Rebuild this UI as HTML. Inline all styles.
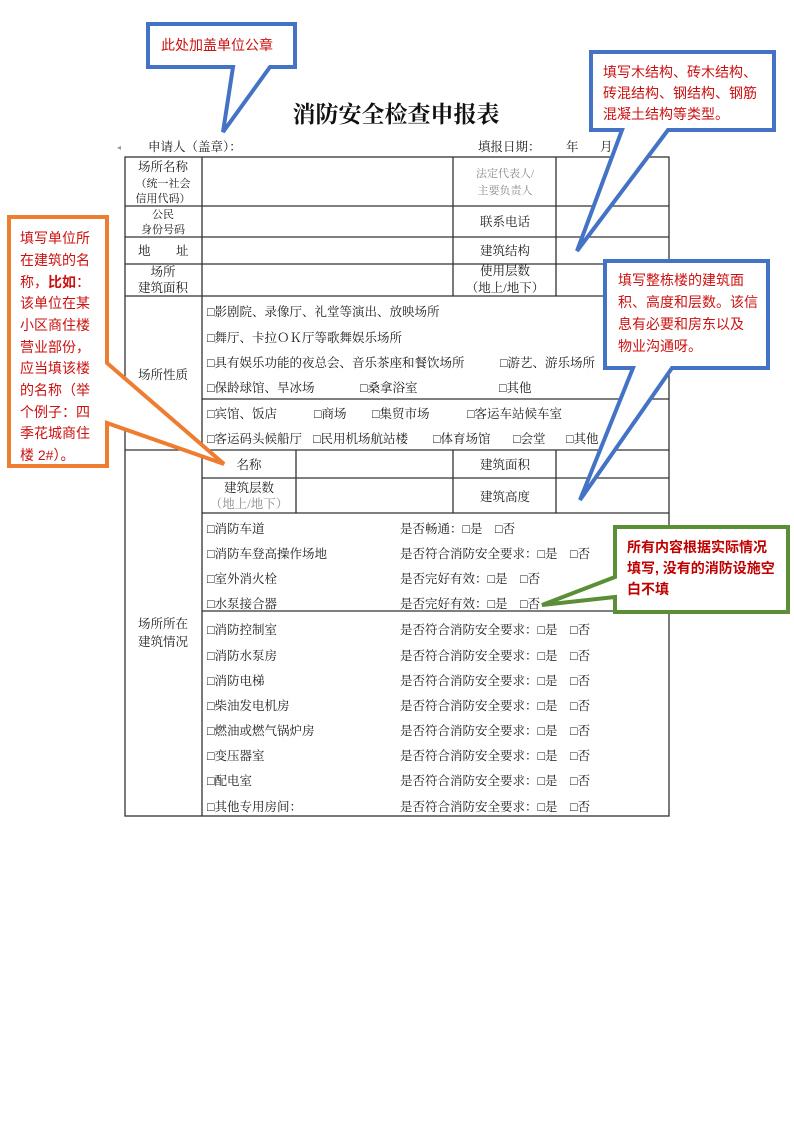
<!DOCTYPE html>
<html><head><meta charset="utf-8"><style>
html,body{margin:0;padding:0;background:#fff;}
svg{display:block;}
.t{font-family:"Liberation Serif","Noto Serif CJK SC",serif;font-size:12.5px;fill:#1a1a1a;}
.g{fill:#8a8a8a;}
.r{font-family:"Liberation Sans","Noto Sans CJK SC",sans-serif;font-size:14px;fill:#cc1111;}
.rb{font-weight:bold;fill:#c00000;}
</style></head><body>
<svg width="794" height="1122" viewBox="0 0 794 1122" xmlns="http://www.w3.org/2000/svg">
<rect width="794" height="1122" fill="#fff"/>
<text x="396" y="122" text-anchor="middle" style="font-family:'Liberation Serif','Noto Serif CJK SC',serif;font-size:23px;font-weight:bold;fill:#111">消防安全检查申报表</text>
<text class="t" x="148" y="151">申请人（盖章）：</text>
<text class="t" x="478" y="151">填报日期：</text>
<text class="t" x="566" y="151">年</text>
<text class="t" x="600" y="151">月</text>
<text class="t" x="633" y="151">日</text>
<text class="t" x="117" y="150" style="font-size:8px;fill:#999">◂</text>

<g stroke="#333" stroke-width="1.3" fill="none">
<rect x="125" y="157" width="544" height="659"/>
<line x1="125" y1="206" x2="669" y2="206"/>
<line x1="125" y1="237" x2="669" y2="237"/>
<line x1="125" y1="264" x2="669" y2="264"/>
<line x1="125" y1="296" x2="669" y2="296"/>
<line x1="202" y1="399" x2="669" y2="399"/>
<line x1="125" y1="450" x2="669" y2="450"/>
<line x1="202" y1="478" x2="669" y2="478"/>
<line x1="202" y1="513" x2="669" y2="513"/>
<line x1="202" y1="611" x2="669" y2="611"/>
<line x1="202" y1="157" x2="202" y2="816"/>
<line x1="453" y1="157" x2="453" y2="296"/>
<line x1="556" y1="157" x2="556" y2="296"/>
<line x1="296" y1="450" x2="296" y2="513"/>
<line x1="453" y1="450" x2="453" y2="513"/>
<line x1="556" y1="450" x2="556" y2="513"/>
</g>

<text class="t" x="163" y="171" text-anchor="middle">场所名称</text>
<text class="t" x="163" y="187" text-anchor="middle" style="font-size:11px">（统一社会</text>
<text class="t" x="163" y="202" text-anchor="middle" style="font-size:11px">信用代码）</text>
<text class="t" x="163" y="218" text-anchor="middle" style="font-size:11px">公民</text>
<text class="t" x="163" y="233" text-anchor="middle" style="font-size:11px">身份号码</text>
<text class="t" x="138" y="255">地</text>
<text class="t" x="176" y="255">址</text>
<text class="t" x="163" y="276" text-anchor="middle">场所</text>
<text class="t" x="163" y="292" text-anchor="middle">建筑面积</text>
<text class="t" x="163" y="379" text-anchor="middle">场所性质</text>
<text class="t" x="163" y="628" text-anchor="middle">场所所在</text>
<text class="t" x="163" y="646" text-anchor="middle">建筑情况</text>

<text class="t g" x="505" y="177" text-anchor="middle" style="font-size:11px">法定代表人/</text>
<text class="t g" x="505" y="194" text-anchor="middle" style="font-size:11px">主要负责人</text>
<text class="t" x="505" y="226" text-anchor="middle">联系电话</text>
<text class="t" x="505" y="255" text-anchor="middle">建筑结构</text>
<text class="t" x="505" y="275" text-anchor="middle">使用层数</text>
<text class="t" x="505" y="292" text-anchor="middle">（地上/地下）</text>

<text class="t" x="207" y="316">□影剧院、录像厅、礼堂等演出、放映场所</text>
<text class="t" x="207" y="342">□舞厅、卡拉ＯＫ厅等歌舞娱乐场所</text>
<text class="t" x="207" y="367">□具有娱乐功能的夜总会、音乐茶座和餐饮场所</text>
<text class="t" x="500" y="367">□游艺、游乐场所</text>
<text class="t" x="207" y="392">□保龄球馆、旱冰场</text>
<text class="t" x="360" y="392">□桑拿浴室</text>
<text class="t" x="499" y="392">□其他</text>
<text class="t" x="207" y="418">□宾馆、饭店</text>
<text class="t" x="314" y="418">□商场</text>
<text class="t" x="372" y="418">□集贸市场</text>
<text class="t" x="467" y="418">□客运车站候车室</text>
<text class="t" x="207" y="443">□客运码头候船厅</text>
<text class="t" x="313" y="443">□民用机场航站楼</text>
<text class="t" x="433" y="443">□体育场馆</text>
<text class="t" x="513" y="443">□会堂</text>
<text class="t" x="566" y="443">□其他</text>

<text class="t" x="249" y="469" text-anchor="middle">名称</text>
<text class="t" x="505" y="469" text-anchor="middle">建筑面积</text>
<text class="t" x="249" y="492" text-anchor="middle">建筑层数</text>
<text class="t g" x="249" y="508" text-anchor="middle">（地上/地下）</text>
<text class="t" x="505" y="501" text-anchor="middle">建筑高度</text>

<text class="t" x="207" y="533">□消防车道</text><text class="t" x="400" y="533">是否畅通：□是　□否</text>
<text class="t" x="207" y="558">□消防车登高操作场地</text><text class="t" x="400" y="558">是否符合消防安全要求：□是　□否</text>
<text class="t" x="207" y="583">□室外消火栓</text><text class="t" x="400" y="583">是否完好有效：□是　□否</text>
<text class="t" x="207" y="608">□水泵接合器</text><text class="t" x="400" y="608">是否完好有效：□是　□否</text>
<text class="t" x="207" y="634">□消防控制室</text><text class="t" x="400" y="634">是否符合消防安全要求：□是　□否</text>
<text class="t" x="207" y="660">□消防水泵房</text><text class="t" x="400" y="660">是否符合消防安全要求：□是　□否</text>
<text class="t" x="207" y="685">□消防电梯</text><text class="t" x="400" y="685">是否符合消防安全要求：□是　□否</text>
<text class="t" x="207" y="710">□柴油发电机房</text><text class="t" x="400" y="710">是否符合消防安全要求：□是　□否</text>
<text class="t" x="207" y="735">□燃油或燃气锅炉房</text><text class="t" x="400" y="735">是否符合消防安全要求：□是　□否</text>
<text class="t" x="207" y="760">□变压器室</text><text class="t" x="400" y="760">是否符合消防安全要求：□是　□否</text>
<text class="t" x="207" y="785">□配电室</text><text class="t" x="400" y="785">是否符合消防安全要求：□是　□否</text>
<text class="t" x="207" y="811">□其他专用房间：</text><text class="t" x="400" y="811">是否符合消防安全要求：□是　□否</text>

<polygon points="148,24 295,24 295,67 270,67 223,132 233,67 148,67" fill="#fff" stroke="#4472C4" stroke-width="4"/>
<text class="r" x="161" y="50">此处加盖单位公章</text>

<polygon points="591,52 774,52 774,130 668,130 577,251 622,130 591,130" fill="#fff" stroke="#4472C4" stroke-width="4"/>
<text class="r" x="603" y="77">填写木结构、砖木结构、</text>
<text class="r" x="603" y="98">砖混结构、钢结构、钢筋</text>
<text class="r" x="603" y="119">混凝土结构等类型。</text>

<polygon points="605,261 768,261 768,368 672,368 580,500 633,368 605,368" fill="#fff" stroke="#4472C4" stroke-width="4"/>
<text class="r" x="618" y="285">填写整栋楼的建筑面</text>
<text class="r" x="618" y="307">积、高度和层数。该信</text>
<text class="r" x="618" y="329">息有必要和房东以及</text>
<text class="r" x="618" y="351">物业沟通呀。</text>

<polygon points="9,217 107,217 107,363 224,464 107,423 107,466 9,466" fill="#fff" stroke="#ED7D31" stroke-width="4"/>
<text class="r" x="20" y="243">填写单位所</text>
<text class="r" x="20" y="265">在建筑的名</text>
<text class="r" x="20" y="287">称，<tspan font-weight="bold">比如</tspan>：</text>
<text class="r" x="20" y="308">该单位在某</text>
<text class="r" x="20" y="330">小区商住楼</text>
<text class="r" x="20" y="352">营业部份，</text>
<text class="r" x="20" y="373">应当填该楼</text>
<text class="r" x="20" y="395">的名称（举</text>
<text class="r" x="20" y="417">个例子：四</text>
<text class="r" x="20" y="438">季花城商住</text>
<text class="r" x="20" y="460">楼 2#）。</text>

<polygon points="615,527 788,527 788,612 615,612 615,597 542,605 615,577" fill="#fff" stroke="#5B8F37" stroke-width="4"/>
<text class="r rb" x="627" y="552">所有内容根据实际情况</text>
<text class="r rb" x="627" y="573">填写, 没有的消防设施空</text>
<text class="r rb" x="627" y="594">白不填</text>
</svg>
</body></html>
